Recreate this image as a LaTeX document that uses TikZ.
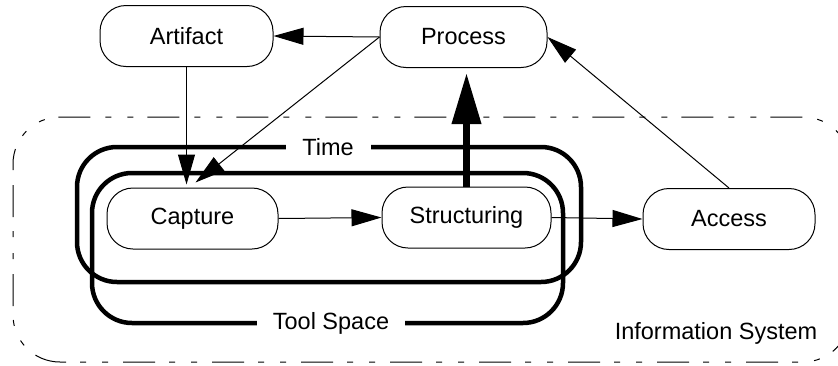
\documentclass[tikz,border=0pt]{standalone}
\usepackage{fontspec}
\setmainfont{Liberation Sans}
\usetikzlibrary{arrows.meta}
\begin{document}
\begin{tikzpicture}[x=1pt,y=-1pt,
  every node/.style={font=\fontsize{23.5}{28}\selectfont},
  proc/.style={draw,line width=1pt,rounded corners=26pt,minimum height=61pt,inner sep=0pt},
  thin/.style={line width=1pt,-{Triangle[length=30pt,width=17pt]}},
  bigarrow/.style={line width=7pt,-{Triangle[length=51pt,width=28pt]}},
  band/.style={line width=4.5pt,rounded corners=40pt},
  bandlabel/.style={fill=white,inner ysep=2pt},
  sysbox/.style={line width=1pt,rounded corners=47pt,dash pattern=on 6pt off 15pt on 32pt off 14pt on 6pt off 16pt}
]
\useasboundingbox (0,0) rectangle (838,365);
\clip (0,0) rectangle (838,365);
% information system boundary
\draw[sysbox] (13,117) rectangle (850,362);
\node (infosys) at (716,333) {Information System};
% overlapping Time and Tool Space bands
\draw[band] (77,147) rectangle (581,282);
\draw[band] (92,173) rectangle (563,323);
\node[bandlabel,minimum width=85pt] (time) at (328,147) {Time};
\node[bandlabel,minimum width=148pt] (toolspace) at (331,323) {Tool Space};
% process nodes
\node[proc,minimum width=173pt,fill=white] (artifact) at (186.5,36) {Artifact};
\node[proc,minimum width=167pt,fill=white] (process) at (463.5,37) {Process};
\node[proc,minimum width=171pt] (capture) at (192.5,218.5) {Capture};
\node[proc,minimum width=169pt] (structuring) at (466.5,217.5) {Structuring};
\node[proc,minimum width=172pt,fill=white] (access) at (729,219) {Access};
% connectors
\draw[thin] (process.west) -- (artifact.east);
\draw[thin] (artifact.south) -- ([yshift=3pt]capture.north -| artifact.south);
\draw[thin] (process.west) -- ([shift={(3pt,5pt)}]capture.north);
\draw[thin] (capture.east) -- (structuring.west);
\draw[thin] (structuring.east) -- (access.west);
\draw[thin] (access.north) -- (process.east);
\draw[bigarrow] (structuring.north) -- ([yshift=-5pt]structuring.north |- process.south);
\end{tikzpicture}
\end{document}
